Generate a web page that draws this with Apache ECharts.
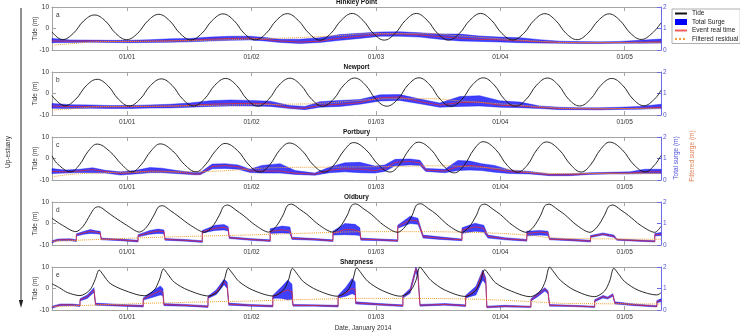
<!DOCTYPE html>
<html>
<head>
  <meta charset="utf-8">
  <title>Severn estuary surge, January 2014</title>
  <script src="https://cdn.jsdelivr.net/npm/echarts@6/dist/echarts.min.js"></script>
  <style>
    html, body { margin: 0; padding: 0; background: #fff; }
  </style>
</head>
<body>
  <div id="main" style="width:740px;height:333px;"></div>
  <script type="text/javascript">
    // stations, top to bottom (up-estuary)
    var stations = ['Hinkley Point', 'Newport', 'Portbury', 'Oldbury', 'Sharpness'];
    var letters = ['a', 'b', 'c', 'd', 'e'];
    // hours from 01/01 00:00
    var dayTicks = [0, 24, 48, 72, 96];
    var dayLabels = ['01/01', '01/02', '01/03', '01/04', '01/05'];

    // tide (m) : [hour, level]
    var tideA = [[-14.5,-1.6],[-12.5,-5.2],[-10.4,-2.3],[-8.4,3.5],[-6.3,6.3],[-4.2,3.5],[-2.2,-2.3],
      [-0.1,-5.2],[2.0,-2.3],[4.0,3.6],[6.1,6.6],[8.2,3.6],[10.2,-2.3],
      [12.3,-5.3],[14.4,-2.3],[16.4,3.7],[18.5,6.8],[20.6,3.7],[22.6,-2.3],
      [24.7,-5.3],[26.8,-2.3],[28.8,3.8],[30.9,6.9],[33.0,3.8],[35.1,-2.3],
      [37.2,-5.4],[39.3,-2.3],[41.3,3.8],[43.4,7.0],[45.5,3.8],[47.5,-2.3],
      [49.6,-5.4],[51.7,-2.3],[53.7,3.8],[55.8,7.0],[57.9,3.8],[59.9,-2.3],
      [62.0,-5.4],[64.1,-2.3],[66.1,3.8],[68.2,7.0],[70.3,3.8],[72.3,-2.3],
      [74.4,-5.3],[76.5,-2.3],[78.5,3.8],[80.6,6.9],[82.7,3.7],[84.7,-2.3],
      [86.8,-5.2],[88.9,-2.2],[90.9,3.7],[93.0,6.8],[95.1,3.7],[97.1,-2.2],
      [99.2,-5.1],[101.3,-2.2],[103,2.6]];
    var tideB = [[-14.5,-1.0],[-12.0,-5.7],[-9.9,-2.6],[-7.9,3.6],[-5.8,6.6],[-3.7,3.6],[-1.7,-2.6],
      [0.4,-5.8],[2.5,-2.6],[4.5,3.7],[6.6,6.8],[8.7,3.7],[10.7,-2.6],
      [12.8,-5.8],[14.9,-2.6],[16.9,3.8],[19.0,7.0],[21.1,3.8],[23.1,-2.6],
      [25.2,-5.9],[27.3,-2.7],[29.3,3.9],[31.4,7.1],[33.5,3.9],[35.6,-2.7],
      [37.7,-5.9],[39.8,-2.7],[41.8,3.9],[43.9,7.2],[46.0,3.9],[48.0,-2.7],
      [50.1,-5.9],[52.2,-2.7],[54.2,4.0],[56.3,7.3],[58.4,4.0],[60.4,-2.7],
      [62.5,-5.9],[64.6,-2.7],[66.6,4.0],[68.7,7.3],[70.8,4.0],[72.8,-2.7],
      [74.9,-5.9],[77.0,-2.7],[79.0,3.9],[81.1,7.2],[83.2,3.9],[85.2,-2.7],
      [87.3,-5.8],[89.4,-2.6],[91.4,3.8],[93.5,7.0],[95.6,3.8],[97.6,-2.6],
      [99.7,-5.7],[101.8,-2.5],[103,1.5]];
    var tideC = [[-14.5,1.2],[-13.4,-2.6],
      [-10.9,-6.2],[-9.2,-2.9],[-7.5,3.4],[-5.8,6.7],[-3.4,3.4],[-1.0,-2.9],
      [0.9,-6.2],[2.7,-2.9],[4.6,3.5],[6.4,6.8],[8.8,3.5],[11.1,-2.9],
      [13.3,-6.2],[15.1,-2.9],[17.1,3.7],[18.9,7.0],[21.3,3.7],[23.5,-3.0],
      [25.6,-6.3],[27.5,-3.0],[29.4,3.8],[31.3,7.2],[33.7,3.8],[35.9,-3.0],
      [38.1,-6.3],[39.9,-3.0],[41.9,3.9],[43.7,7.4],[46.1,4.0],[48.5,-3.0],
      [50.7,-6.3],[52.5,-3.0],[54.4,4.1],[56.2,7.6],[58.6,4.2],[60.9,-3.1],
      [63.1,-6.7],[65.0,-3.2],[66.9,4.2],[68.7,7.8],[71.1,4.2],[73.3,-3.1],
      [75.3,-6.4],[77.2,-3.1],[79.1,4.2],[80.9,7.7],[83.3,4.2],[85.6,-3.0],
      [87.6,-6.3],[89.4,-3.0],[91.3,4.1],[93.1,7.6],[95.5,4.1],[97.8,-3.0],
      [100.0,-6.2],[101.8,-2.9],[103,1.4]];
    var tideD = [[-14.5,2.4],[-12.5,-0.8],
      [-9.9,-3.8],[-8.5,-1.3],[-7.1,4.2],[-6.3,7.1],[-5.5,7.8],[-3.9,5.4],[-2.5,3.0],[-0.1,-0.8],
      [2.4,-4.0],[3.8,-1.5],[5.2,4.0],[6.0,7.6],[6.8,8.3],[8.4,5.9],[9.8,3.5],[12.2,-0.8],
      [15.0,-4.1],[16.4,-1.6],[17.8,3.9],[18.6,7.9],[19.4,8.6],[21.0,6.2],[22.4,3.8],[24.8,-0.9],
      [27.3,-4.0],[28.7,-1.5],[30.1,4.0],[30.9,8.3],[31.7,9.0],[33.3,6.6],[34.7,4.2],[37.1,-0.8],
      [39.7,-4.0],[41.1,-1.5],[42.5,4.0],[43.3,8.4],[44.1,9.1],[45.7,6.7],[47.1,4.3],[49.5,-0.8],
      [52.2,-4.1],[53.6,-1.6],[55.0,3.9],[55.8,8.5],[56.6,9.2],[58.2,6.8],[59.6,4.4],[62.0,-0.9],
      [64.6,-4.1],[66.0,-1.6],[67.4,3.9],[68.2,8.3],[69.0,9.0],[70.6,6.6],[72.0,4.2],[74.4,-0.9],
      [77.0,-4.1],[78.4,-1.6],[79.8,3.9],[80.6,8.3],[81.4,9.0],[83.0,6.6],[84.4,4.2],[86.8,-0.9],
      [89.3,-4.1],[90.7,-1.6],[92.1,3.9],[92.9,7.9],[93.7,8.6],[95.3,6.2],[96.7,3.8],[99.1,-0.9],
      [101.8,-4.1],[103,-1.4]];
    var tideE = [[-14.5,2.2],[-13.1,0.4],[-11.5,-1.9],
      [-9.1,-3.3],[-7.2,-0.7],[-6.2,4.0],[-5.4,8.6],[-4.6,6.3],[-3.3,2.4],[-0.7,-0.7],
      [3.3,-3.4],[5.2,-0.8],[6.2,3.9],[7.0,9.1],[7.8,6.8],[9.1,2.9],[11.7,-0.7],
      [15.8,-3.5],[17.7,-0.9],[18.7,3.8],[19.5,9.4],[20.3,7.1],[21.6,3.2],[24.2,-0.7],
      [28.2,-3.5],[30.1,-0.9],[31.1,3.8],[31.9,9.4],[32.7,7.1],[34.0,3.2],[36.6,-0.7],
      [40.6,-3.6],[42.5,-1.0],[43.5,3.7],[44.3,9.6],[45.1,7.3],[46.4,3.4],[49.0,-0.7],
      [52.8,-3.6],[54.7,-1.0],[55.7,3.7],[56.5,10.0],[57.3,7.7],[58.6,3.8],[61.2,-0.6],
      [65.3,-3.7],[67.2,-1.1],[68.2,3.6],[69.0,8.8],[69.8,6.5],[71.1,2.6],[73.7,-0.8],
      [77.8,-3.8],[79.7,-1.2],[80.7,3.5],[81.5,10.0],[82.3,7.7],[83.6,3.8],[86.2,-0.7],
      [90.2,-3.8],[92.1,-1.2],[93.1,3.5],[93.9,9.4],[94.7,7.1],[96.0,3.2],[98.6,-0.8],
      [102.2,-3.0],[103,-2.0]];

    // total surge range and event real time (m) : [hour, low, high, event]
    var surgeA = [[-14.5,.34,.54,.42],[-11.0,.35,.47,.41],[-7.1,.36,.46,.42],[-3.3,.35,.45,.40],[0.6,.34,.45,.40],
      [4.4,.35,.48,.41],[8.3,.36,.52,.43],[12.1,.38,.54,.45],[16.0,.42,.60,.50],[19.9,.45,.64,.54],
      [23.7,.47,.64,.55],[26.6,.42,.58,.49],[29.5,.35,.50,.42],[33.3,.30,.50,.37],[37.2,.35,.57,.41],
      [41.1,.45,.72,.56],[44.9,.54,.78,.64],[48.8,.64,.84,.74],[52.6,.64,.85,.75],[56.5,.60,.80,.70],
      [60.3,.50,.75,.62],[64.2,.42,.74,.55],[68.0,.40,.65,.50],[71.9,.37,.60,.47],[75.8,.34,.57,.43],
      [79.6,.32,.48,.38],[83.5,.31,.41,.35],[87.3,.30,.39,.34],[91.2,.30,.38,.34],[95.0,.31,.40,.35],
      [98.9,.31,.45,.36],[103,.32,.51,.38]];
    var surgeB = [[-14.5,.31,.54,.42],[-11.0,.30,.48,.39],[-7.1,.31,.47,.39],[-3.3,.30,.44,.38],[0.6,.30,.44,.39],
      [4.4,.32,.47,.40],[8.3,.33,.50,.41],[12.1,.36,.56,.45],[16.0,.40,.66,.50],[19.9,.42,.70,.53],
      [23.7,.42,.68,.54],[27.6,.40,.64,.52],[31.4,.30,.44,.33],[34.3,.25,.40,.31],[37.2,.36,.62,.45],
      [41.1,.40,.68,.50],[44.9,.50,.72,.58],[48.8,.65,.94,.80],[52.6,.68,.95,.84],[56.5,.52,.74,.62],
      [60.3,.36,.56,.46],[64.2,.40,.86,.58],[68.0,.42,.90,.60],[71.9,.36,.66,.45],[75.8,.34,.60,.42],
      [79.6,.30,.42,.35],[83.5,.25,.36,.30],[87.3,.25,.34,.29],[91.2,.24,.34,.28],[95.0,.26,.36,.30],
      [98.9,.27,.40,.31],[103,.30,.50,.36]];
    var surgeC = [[-14.5,.30,.53,.40],[-12.0,.32,.46,.38],[-9.1,.35,.50,.42],[-6.7,.34,.57,.48],[-4.2,.32,.45,.40],
      [-1.3,.23,.38,.30],[1.5,.28,.44,.36],[4.4,.34,.58,.42],[6.7,.34,.55,.41],[9.3,.30,.45,.38],
      [13.1,.24,.34,.27],[14.1,.25,.35,.28],[16.4,.52,.74,.63],[18.9,.54,.76,.67],[21.4,.50,.70,.62],
      [23.7,.35,.50,.42],[26.0,.32,.68,.42],[29.5,.32,.76,.42],[32.4,.26,.44,.32],[36.2,.22,.32,.27],
      [39.1,.34,.60,.46],[42.0,.38,.80,.52],[44.9,.34,.82,.50],[47.8,.32,.65,.44],[49.7,.40,.70,.52],
      [51.7,.66,.96,.82],[54.6,.70,.98,.86],[56.5,.68,.92,.80],[57.6,.40,.54,.46],[61.3,.34,.50,.42],
      [63.8,.44,.91,.62],[66.1,.46,.88,.68],[68.4,.44,.76,.62],[70.9,.36,.68,.50],[73.8,.30,.47,.39],
      [77.7,.28,.40,.34],[81.5,.20,.28,.24],[85.4,.20,.29,.24],[89.3,.26,.34,.30],[93.1,.28,.36,.32],
      [97.0,.28,.38,.32],[99.9,.30,.50,.38],[103,.30,.50,.38]];
    var surgeD = [[-14.5,.10,.20,.15],[-13.3,.20,.28,.24],[-11.0,.20,.29,.25],[-9.8,.16,.24,.20],
      [-9.8,.42,.52,.47],[-8.3,.50,.64,.57],[-7.1,.54,.72,.64],[-6.0,.52,.66,.60],[-5.2,.50,.64,.57],
      [-5.0,.24,.32,.28],[-1.3,.20,.28,.24],[2.1,.14,.22,.18],
      [2.1,.38,.48,.43],[4.4,.50,.68,.58],[6.0,.54,.74,.65],[7.1,.52,.70,.62],
      [7.3,.22,.30,.26],[11.2,.18,.26,.22],[14.5,.12,.20,.16],
      [14.5,.56,.68,.62],[17.0,.68,.92,.78],[18.7,.70,.95,.82],[19.5,.65,.85,.75],
      [19.7,.30,.38,.34],[23.7,.22,.30,.26],[27.6,.16,.24,.20],
      [27.6,.54,.76,.64],[29.9,.56,.88,.70],[31.4,.54,.84,.66],
      [31.8,.26,.36,.31],[36.2,.22,.30,.26],[39.7,.16,.24,.20],
      [39.7,.46,.64,.54],[42.0,.48,1.0,.72],[44.0,.46,.96,.70],[44.9,.44,.80,.62],
      [45.1,.22,.32,.27],[48.8,.20,.28,.24],[52.2,.16,.24,.20],
      [52.2,.78,.92,.85],[54.6,1.0,1.34,1.16],[56.1,.96,1.24,1.12],[56.7,.62,.76,.70],
      [57.1,.32,.46,.39],[60.3,.26,.38,.32],[64.6,.20,.28,.24],
      [64.6,.54,.80,.70],[67.1,.64,1.01,.84],[68.8,.60,.92,.78],
      [69.6,.32,.46,.40],[72.9,.24,.34,.29],[77.1,.18,.26,.22],
      [77.1,.42,.64,.54],[79.6,.46,.68,.60],[81.2,.44,.64,.56],
      [81.5,.24,.32,.27],[85.4,.20,.28,.24],[89.4,.14,.22,.18],
      [89.4,.35,.44,.39],[91.8,.46,.56,.51],[93.9,.36,.46,.40],
      [94.5,.22,.28,.25],[98.1,.18,.24,.21],[101.8,.14,.20,.17],
      [101.8,.42,.54,.47],[103,.44,.58,.50]];
    var surgeE = [[-14.5,.08,.18,.13],[-12.9,.20,.28,.24],[-10.6,.20,.28,.24],[-9.1,.16,.24,.20],
      [-9.1,.42,.52,.47],[-7.7,.54,.70,.62],[-6.4,.82,1.04,.93],
      [-6.1,.22,.32,.27],[-1.3,.18,.26,.22],[3.1,.14,.22,.18],
      [3.1,.46,.56,.51],[4.8,.58,.86,.72],[6.4,.70,1.12,.90],[6.9,.66,1.00,.82],
      [7.1,.20,.30,.25],[11.2,.18,.26,.22],[15.6,.12,.20,.16],
      [15.6,.54,.64,.59],[17.2,.72,.94,.83],[18.7,1.18,1.43,1.32],[19.3,1.0,1.30,1.15],
      [19.6,.22,.32,.27],[23.7,.18,.26,.22],[28.1,.14,.22,.18],
      [28.1,.56,.68,.62],[29.9,.54,1.10,.84],[31.0,.47,1.40,.93],[31.8,.50,1.20,.85],
      [32.0,.18,.26,.22],[36.2,.18,.24,.21],[40.7,.14,.22,.18],
      [40.7,.56,.68,.62],[42.2,.64,1.06,.80],[43.4,.76,1.47,1.0],[44.0,.70,1.30,.95],
      [44.1,.28,.38,.33],[48.8,.22,.30,.26],[53.2,.16,.24,.20],
      [53.2,.56,.68,.62],[54.6,.78,1.0,.88],[55.7,1.78,2.0,1.92],[56.1,1.5,1.8,1.65],
      [56.5,.18,.26,.22],[61.3,.22,.30,.26],[65.3,.16,.24,.20],
      [65.3,.56,.68,.62],[67.3,.70,1.10,.92],[68.6,1.40,1.86,1.78],[69.2,1.2,1.5,1.35],
      [69.4,.10,.18,.13],[72.9,.14,.22,.18],[77.9,.12,.18,.15],
      [77.9,.42,.52,.47],[79.2,.62,.78,.70],[80.6,.88,1.04,.98],[81.2,.76,.90,.84],
      [81.5,.18,.26,.22],[85.8,.16,.22,.19],[90.2,.12,.18,.15],
      [90.2,.38,.48,.43],[91.8,.56,.68,.62],[92.7,.51,.61,.56],[93.7,.64,.76,.70],
      [94.1,.28,.38,.33],[97.9,.20,.28,.24],[102.2,.14,.20,.17],
      [102.2,.34,.44,.39],[103,.38,.52,.45]];

    // filtered residual (m) : [hour, value]
    var filtA = [[-14.5,.22],[-10,.31],[-6,.38],[0,.40],[10,.42],[20,.48],[30,.55],[40,.66],[48,.76],[58,.76],[64,.66],[72,.52],[80,.40],[86,.35],[103,.34]];
    var filtB = [[-14.5,.23],[-10,.30],[-6,.38],[0,.40],[10,.42],[20,.46],[30,.50],[38,.55],[46,.70],[52,.76],[58,.76],[64,.66],[72,.52],[80,.38],[86,.31],[103,.30]];
    var filtC = [[-14.5,.15],[-10,.28],[-6,.32],[0,.37],[10,.38],[18,.42],[24,.52],[30,.58],[40,.60],[48,.62],[54,.64],[60,.66],[66,.62],[72,.52],[79,.34],[85,.30],[103,.30]];
    var filtD = [[-14.5,.17],[0,.31],[12,.40],[24,.47],[36,.56],[48,.62],[56,.62],[64,.60],[72,.54],[78,.44],[82,.33],[90,.29],[103,.27]];
    var filtE = [[-14.5,.15],[0,.28],[12,.36],[24,.42],[36,.50],[48,.54],[56,.54],[64,.52],[72,.46],[80,.36],[86,.30],[103,.28]];

    var tides = [tideA, tideB, tideC, tideD, tideE];
    var surges = [surgeA, surgeB, surgeC, surgeD, surgeE];
    var filts = [filtA, filtB, filtC, filtD, filtE];

    var FONT = 'Liberation Sans, Arial, sans-serif';
    var frame = '#a4a4a4';
    var blueAx = '#6b6be6';
    var surgeBlue = 'rgba(0,0,250,0.75)';
    var eventRed = 'rgba(232,40,40,0.75)';
    var filtOrange = '#eea030';

    // band between low and high, one polygon through the axis scales
    function bandRenderer(rows) {
      return function (params, api) {
        if (params.dataIndex !== 0) return null;
        var pts = [];
        for (var k = 0; k < rows.length; k++) pts.push(api.coord([rows[k][0], rows[k][2]]));
        for (var k = rows.length - 1; k >= 0; k--) pts.push(api.coord([rows[k][0], rows[k][1]]));
        return {
          type: 'polygon',
          shape: { points: pts },
          style: { fill: surgeBlue, stroke: surgeBlue, lineWidth: 0.5 }
        };
      };
    }

    var grids = [], xAxes = [], yAxes = [], series = [], graphics = [];
    var panelTop = [7, 72, 137, 202, 267];

    for (var i = 0; i < 5; i++) {
      grids.push({ left: 52, right: 79, top: panelTop[i], height: 43 });

      // bottom date axis
      xAxes.push({
        gridIndex: i, type: 'value', min: -14.5, max: 103,
        axisLine: { onZero: false, lineStyle: { color: frame, width: 1 } },
        axisTick: { inside: true, length: 4, customValues: dayTicks, lineStyle: { color: frame } },
        axisLabel: {
          customValues: dayTicks, margin: 4, fontSize: 6.5, color: '#333', fontFamily: FONT,
          formatter: function (v) { return dayLabels[dayTicks.indexOf(v)] || ''; }
        },
        splitLine: { show: false }
      });
    }
    // top edge of each box, ticks only
    for (var i = 0; i < 5; i++) {
      xAxes.push({
        gridIndex: i, type: 'value', position: 'top', min: -14.5, max: 103,
        axisLine: { onZero: false, lineStyle: { color: frame, width: 1 } },
        axisTick: { inside: true, length: 4, customValues: dayTicks, lineStyle: { color: frame } },
        axisLabel: { show: false },
        splitLine: { show: false }
      });
    }

    for (var i = 0; i < 5; i++) {
      yAxes.push({
        gridIndex: i, type: 'value', min: -10, max: 10, interval: 10,
        name: 'Tide (m)', nameLocation: 'middle', nameGap: 13, nameMoveOverlap: false,
        nameTextStyle: { fontSize: 6.5, color: '#333', fontFamily: FONT },
        axisLine: { show: true, onZero: false, lineStyle: { color: frame, width: 1 } },
        axisTick: { show: true, inside: true, length: 4, lineStyle: { color: frame } },
        axisLabel: { fontSize: 6.5, color: '#333', margin: 3, fontFamily: FONT },
        splitLine: { show: false }
      });
      yAxes.push({
        gridIndex: i, type: 'value', position: 'right', min: 0, max: 2, interval: 1,
        axisLine: { show: true, onZero: false, lineStyle: { color: blueAx, width: 1 } },
        axisTick: { show: true, inside: true, length: 4, lineStyle: { color: blueAx } },
        axisLabel: { fontSize: 6.5, color: '#5555dd', margin: 2, fontFamily: FONT },
        splitLine: { show: false }
      });

      var s = surges[i];
      var band = [], ev = [];
      for (var k = 0; k < s.length; k++) {
        band.push([s[k][0], s[k][1], s[k][2]]);
        ev.push([s[k][0], s[k][3]]);
      }

      series.push({
        name: 'Total Surge', type: 'custom', xAxisIndex: i, yAxisIndex: 2 * i + 1,
        data: band, encode: { x: 0, y: [1, 2] }, silent: true,
        renderItem: bandRenderer(band),
        itemStyle: { color: '#0000ff' }, z: 2
      });
      series.push({
        name: 'Event real time', type: 'line', xAxisIndex: i, yAxisIndex: 2 * i + 1,
        data: ev, symbol: 'none', silent: true,
        lineStyle: { color: eventRed, width: 1 }, itemStyle: { color: eventRed }, z: 3
      });
      series.push({
        name: 'Filtered residual', type: 'line', xAxisIndex: i, yAxisIndex: 2 * i + 1,
        data: filts[i], symbol: 'none', silent: true, smooth: 0.5,
        lineStyle: { color: filtOrange, width: 1, type: 'dotted' }, itemStyle: { color: filtOrange }, z: 4
      });
      series.push({
        name: 'Tide', type: 'line', xAxisIndex: i, yAxisIndex: 2 * i,
        data: tides[i], symbol: 'none', silent: true, smooth: i < 3 ? 0.4 : 0.3,
        lineStyle: { color: '#111', width: 0.9 }, itemStyle: { color: '#111' }, z: 5
      });

      // station title and panel letter
      graphics.push({
        type: 'text', x: 356.5, y: panelTop[i] - 4.3,
        style: { text: stations[i], font: 'bold 6.5px ' + FONT, fill: '#111', align: 'center', verticalAlign: 'middle' }
      });
      graphics.push({
        type: 'text', x: 56, y: panelTop[i] + 8,
        style: { text: letters[i], font: '6.5px ' + FONT, fill: '#333', align: 'left', verticalAlign: 'middle' }
      });
    }

    graphics.push({
      type: 'text', x: 8, y: 152, rotation: Math.PI / 2,
      style: { text: 'Up-estuary', font: '6.5px ' + FONT, fill: '#333', align: 'center', verticalAlign: 'middle' }
    });
    graphics.push({ type: 'line', shape: { x1: 21, y1: 8, x2: 21, y2: 302 }, style: { stroke: '#222', lineWidth: 1 } });
    graphics.push({ type: 'polygon', shape: { points: [[18.8, 300], [23.2, 300], [21, 308]] }, style: { fill: '#222' } });
    graphics.push({
      type: 'text', x: 363, y: 328,
      style: { text: 'Date, January 2014', font: '6.5px ' + FONT, fill: '#333', align: 'center', verticalAlign: 'middle' }
    });
    graphics.push({
      type: 'text', x: 676, y: 158, rotation: Math.PI / 2,
      style: { text: 'Total surge (m)', font: '6.5px ' + FONT, fill: '#5050dd', align: 'center', verticalAlign: 'middle' }
    });
    graphics.push({
      type: 'text', x: 692, y: 156, rotation: Math.PI / 2,
      style: { text: 'Filtered surge (m)', font: '6.5px ' + FONT, fill: '#e07d50', align: 'center', verticalAlign: 'middle' }
    });

    var myChart = echarts.init(document.getElementById('main'));
    var option = {
      animation: false,
      backgroundColor: '#fff',
      textStyle: { fontFamily: FONT },
      legend: {
        orient: 'vertical', left: 672, top: 9,
        backgroundColor: '#fff', borderColor: '#999', borderWidth: 0.8,
        padding: [1, 2, 1, 2], itemWidth: 12, itemHeight: 6, itemGap: 1.5,
        itemStyle: { opacity: 0 },
        textStyle: { fontSize: 6.5, color: '#222' },
        data: [
          { name: 'Tide' },
          { name: 'Total Surge', icon: 'rect', itemStyle: { opacity: 1, color: '#0000ff' } },
          { name: 'Event real time' },
          { name: 'Filtered residual' }
        ]
      },
      grid: grids,
      xAxis: xAxes,
      yAxis: yAxes,
      series: series,
      graphic: graphics
    };
    myChart.setOption(option);
  </script>
</body>
</html>
